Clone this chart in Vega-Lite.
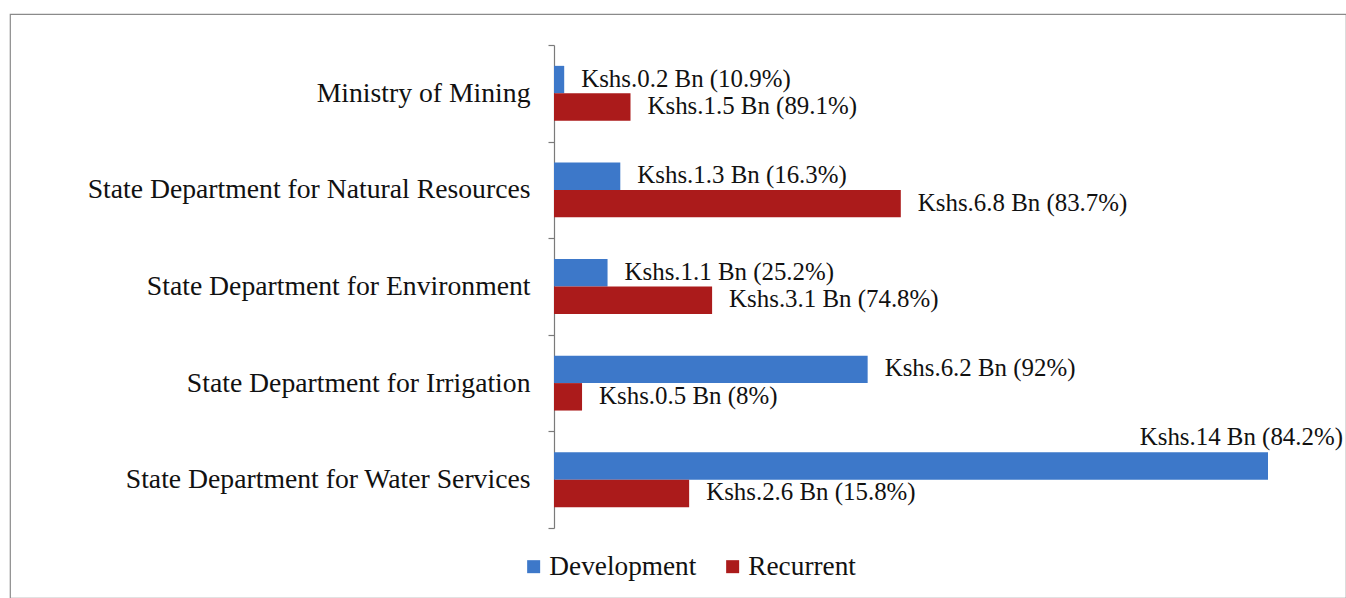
{
  "$schema": "https://vega.github.io/schema/vega-lite/v6.json",
  "autosize": {"type": "none"},
  "width": 1336,
  "height": 584,
  "padding": {"left": 10, "top": 14, "right": 0, "bottom": 0},
  "background": "white",
  "config": {
    "view": {"stroke": "#8a8a8a", "strokeWidth": 1.2},
    "font": "Liberation Serif"
  },
  "data": {
    "values": [
      {"dept": "Ministry of Mining", "type": "Development", "value": 0.2, "label": "Kshs.0.2 Bn (10.9%)"},
      {"dept": "Ministry of Mining", "type": "Recurrent", "value": 1.5, "label": "Kshs.1.5 Bn (89.1%)"},
      {"dept": "State Department for Natural Resources", "type": "Development", "value": 1.3, "label": "Kshs.1.3 Bn (16.3%)"},
      {"dept": "State Department for Natural Resources", "type": "Recurrent", "value": 6.8, "label": "Kshs.6.8 Bn (83.7%)"},
      {"dept": "State Department for Environment", "type": "Development", "value": 1.05, "label": "Kshs.1.1 Bn (25.2%)"},
      {"dept": "State Department for Environment", "type": "Recurrent", "value": 3.1, "label": "Kshs.3.1 Bn (74.8%)"},
      {"dept": "State Department for Irrigation", "type": "Development", "value": 6.15, "label": "Kshs.6.2 Bn (92%)"},
      {"dept": "State Department for Irrigation", "type": "Recurrent", "value": 0.55, "label": "Kshs.0.5 Bn (8%)"},
      {"dept": "State Department for Water Services", "type": "Development", "value": 14, "label": "Kshs.14 Bn (84.2%)"},
      {"dept": "State Department for Water Services", "type": "Recurrent", "value": 2.65, "label": "Kshs.2.6 Bn (15.8%)"}
    ]
  },
  "encoding": {
    "y": {
      "field": "dept",
      "type": "nominal",
      "sort": null,
      "scale": {
        "domain": ["Ministry of Mining", "State Department for Natural Resources", "State Department for Environment", "State Department for Irrigation", "State Department for Water Services"],
        "range": [31, 514],
        "paddingInner": 0,
        "paddingOuter": 0
      },
      "axis": {
        "title": null,
        "offset": -544,
        "domainColor": "#7a7a7a",
        "domainWidth": 1.2,
        "tickColor": "#7a7a7a",
        "tickWidth": 1.2,
        "tickSize": 6,
        "tickBand": "extent",
        "labelFont": "Liberation Serif",
        "labelFontSize": 27.7,
        "labelColor": "#111111",
        "labelPadding": 18,
        "labelLimit": 600
      }
    },
    "yOffset": {
      "field": "type",
      "type": "nominal",
      "scale": {"domain": ["Development", "Recurrent"], "paddingInner": 0, "paddingOuter": 0.76}
    },
    "x": {
      "field": "value",
      "type": "quantitative",
      "scale": {"domain": [0, 14], "range": [544, 1258], "nice": false, "zero": true},
      "axis": null
    }
  },
  "layer": [
    {
      "mark": {"type": "bar"},
      "encoding": {
        "color": {
          "field": "type",
          "type": "nominal",
          "scale": {"domain": ["Development", "Recurrent"], "range": ["#3d78c9", "#ab1b1b"]},
          "legend": {
            "title": null,
            "orient": "none",
            "direction": "horizontal",
            "legendX": 510,
            "legendY": 539,
            "padding": 0,
            "symbolType": "square",
            "symbolSize": 169,
            "symbolStrokeWidth": 0,
            "labelFont": "Liberation Serif",
            "labelFontSize": 27.3,
            "labelColor": "#111111",
            "labelOffset": 2,
            "columnPadding": 22,
            "labelLimit": 300
          }
        }
      }
    },
    {
      "transform": [{"filter": "datum.value < 10"}],
      "mark": {"type": "text", "align": "left", "baseline": "middle", "dx": 17, "font": "Liberation Serif", "fontSize": 24.9, "color": "#111111"},
      "encoding": {"text": {"field": "label"}}
    },
    {
      "transform": [{"filter": "datum.value >= 10"}],
      "mark": {"type": "text", "align": "right", "baseline": "middle", "dx": 75, "dy": -28, "font": "Liberation Serif", "fontSize": 24.9, "color": "#111111"},
      "encoding": {"text": {"field": "label"}}
    }
  ]
}
